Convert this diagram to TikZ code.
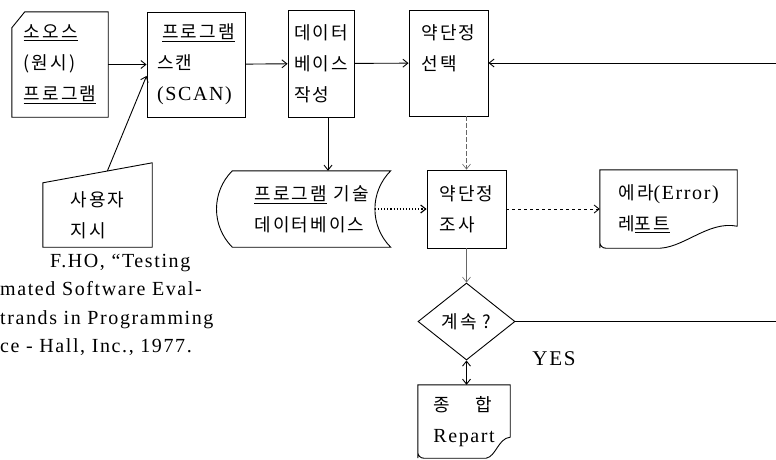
\documentclass[tikz,border=0pt]{standalone}
\usepackage{fontspec}
\usepackage{tikz}
\usetikzlibrary{positioning, shapes.geometric, arrows.meta}

\newfontfamily\krfont{Noto Sans CJK KR}[LetterSpace=12]
\newfontfamily\enfont{Liberation Serif}[LetterSpace=8]
\newcommand{\en}[1]{{\fontsize{20}{31}\enfont #1}}

\begin{document}
\begin{tikzpicture}[
    x=1pt, y=-1pt,
    every node/.style={font=\fontsize{18}{31}\krfont},
    >={Straight Barb[length=5pt,width=8pt]},
    box/.style={rectangle, draw, line width=0.9pt, inner sep=0pt, align=left},
    frame/.style={rectangle, inner sep=0pt, align=left}, % outline drawn by hand below
    outline/.style={line width=0.9pt},
    decision/.style={diamond, draw, line width=0.9pt, inner sep=0pt},
    arrow/.style={line width=0.9pt, ->},
    dotarrow/.style={arrow, line width=1.1pt, dotted},
    dasharrow/.style={arrow, dash pattern=on 3pt off 3pt},
    faintarrow/.style={line width=0.6pt, black!60, ->, dash pattern=on 5pt off 2pt}
  ]
  \path[use as bounding box, clip] (0,0) rectangle (776,459);

  % Nodes
  \node[frame, minimum width=96pt, minimum height=105pt] (src) at (60,64.5)
    {\underline{소오스}\\(원시)\\\underline{프로그램}};
  \node[box, minimum width=98pt, minimum height=105pt] (scan) at (196,64.5)
    {\hspace*{5pt}\underline{프로그램}\\스캔\\\en{(SCAN)}};
  \node[box, minimum width=66pt, minimum height=107pt] (data) at (321,63.5)
    {데이터\\베이스\\작성};
  \node[box, minimum width=79pt, minimum height=106pt] (sel) at (448.5,63)
    {약단정\\선택\\\mbox{}};
  \node[frame, minimum width=109pt, minimum height=64pt] (usr) at (97.5,215)
    {사용자\\지시};
  \node[frame, minimum width=158pt, minimum height=76pt] (db) at (311.5,209)
    {\underline{프로그램} 기술\\데이터베이스};
  \node[box, minimum width=79pt, minimum height=78pt] (chk) at (466.5,209)
    {약단정\\조사};
  \node[frame, minimum width=137pt, minimum height=78pt] (err) at (668.5,209)
    {에라\en{(Error)}\\레\underline{포트}};
  \node[decision, minimum width=97pt, minimum height=77pt] (cont) at (466.5,321.5)
    {계속 ?};
  \node[frame, minimum width=92pt, minimum height=73pt] (rep) at (464,421.5)
    {종\hspace{26pt}합\\\en{Repart}};

  % Labels
  \node (yes) at (554,359) {\fontsize{21}{25}\enfont YES};
  \node[align=left, anchor=west, inner sep=0pt, font=\fontsize{20}{28.3}\enfont] (ref) at (0,305)
    {\hspace*{50pt}F.HO, “Testing\\mated Software Eval-\\trands in Programming\\ce - Hall, Inc., 1977.};

  % Outlines of the special shapes
  \draw[outline] ([yshift=-16pt]src.north west) -- ([xshift=13pt]src.north west)
    -- (src.north east) -- (src.south east) -- (src.south west) -- cycle;
  \draw[outline] (usr.north west) -- coordinate[pos=0.59] (usrtop) ([yshift=20pt]usr.north east)
    -- (usr.south east) -- (usr.south west) -- cycle;
  \draw[outline] (db.north west) -- (db.north east) to[bend right=45] coordinate[pos=0.5] (dbr) (db.south east)
    -- (db.south west) to[bend left=45] (db.north west) -- cycle;
  \draw[outline] (err.south west) -- (err.north west) -- (err.north east) -- ([yshift=22pt]err.south east)
    .. controls ([xshift=-30pt,yshift=28pt]err.south east) and ([xshift=-55pt,yshift=-2pt]err.south east) .. ([xshift=-82pt]err.south east)
    -- ([xshift=6pt]err.south west) to[out=180, in=-90] ([yshift=6pt]err.south west) -- cycle;
  \draw[outline] (rep.south west) -- (rep.north west) -- (rep.north east) -- ([yshift=21pt]rep.south east)
    .. controls ([xshift=-12pt,yshift=20pt]rep.south east) and ([xshift=-14pt,yshift=2pt]rep.south east) .. ([xshift=-24pt]rep.south east)
    -- ([xshift=6pt]rep.south west) to[out=180, in=-90] ([yshift=6pt]rep.south west) -- cycle;

  % Connections
  \draw[arrow] (src) -- (scan);
  \draw[arrow] (usrtop) -- (scan.193);
  \draw[arrow] (scan) -- (data);
  \draw[arrow] (data) -- (sel);
  \draw[arrow] ([xshift=7pt]data.south) -- ([xshift=7pt]data.south |- db.north);
  \draw[faintarrow] (sel.south -| chk.north) -- (chk.north);
  \draw[dotarrow] (dbr) -- (dbr -| chk.west);
  \draw[dasharrow] (chk) -- (err);
  \draw[faintarrow, solid] (chk) -- (cont);
  \draw[line width=0.9pt, <->] (cont.south) -- (cont.south |- rep.north);
  \draw[arrow] (cont.east) -- ++(330,0) |- (sel.east);

\end{tikzpicture}
\end{document}
